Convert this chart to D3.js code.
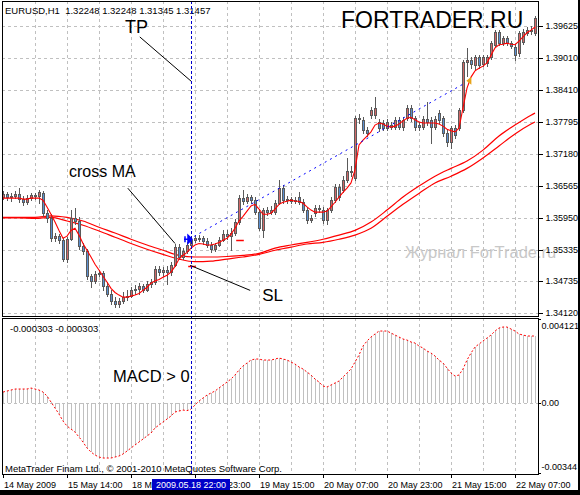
<!DOCTYPE html>
<html>
<head>
<meta charset="utf-8">
<script src="https://cdn.jsdelivr.net/npm/d3@7"></script>
<style>
  body { margin: 0; background: #fff; }
  svg { display: block; font-family: "Liberation Sans", Arial, sans-serif; }
  .grid { stroke: #c0c0c0; stroke-dasharray: 3,3; shape-rendering: crispEdges; }
  .frame { fill: none; stroke: #000; shape-rendering: crispEdges; }
  .axis text { font-size: 9px; fill: #000; }
  .axis line { stroke: #000; shape-rendering: crispEdges; }
</style>
</head>
<body>
<svg id="chart" width="580" height="495"></svg>
<script>
// EURUSD H1, bars 0..133
const open = [
  1.3635,1.3641,1.3635,1.3637,1.3641,1.3631,1.3625,1.3633,1.3639,1.3637,
  1.3642,1.3604,1.3594,1.3556,1.3560,1.3552,1.3516,1.3554,1.3594,1.3589,
  1.3541,1.3531,1.3483,1.3474,1.3487,1.3489,1.3464,1.3450,1.3435,1.3429,
  1.3435,1.3443,1.3445,1.3456,1.3458,1.3464,1.3456,1.3468,1.3472,1.3497,
  1.3491,1.3495,1.3491,1.3504,1.3539,1.3520,1.3531,1.3543,1.3552,1.3556,
  1.3556,1.3550,1.3543,1.3535,1.3543,1.3552,1.3564,1.3560,1.3566,1.3587,
  1.3633,1.3627,1.3635,1.3629,1.3606,1.3571,1.3610,1.3606,1.3606,1.3623,
  1.3652,1.3629,1.3631,1.3627,1.3635,1.3625,1.3610,1.3591,1.3604,1.3614,
  1.3610,1.3591,1.3610,1.3629,1.3654,1.3648,1.3667,1.3685,1.3671,1.3786,
  1.3783,1.3763,1.3792,1.3792,1.3779,1.3777,1.3767,1.3773,1.3769,1.3783,
  1.3769,1.3786,1.3806,1.3786,1.3773,1.3769,1.3785,1.3783,1.3769,1.3796,
  1.3786,1.3758,1.3740,1.3767,1.3767,1.3802,1.3894,1.3898,1.3888,1.3904,
  1.3890,1.3892,1.3904,1.3927,1.3952,1.3930,1.3940,1.3930,1.3923,1.3911,
  1.3932,1.3950,1.3955,1.3950
];
const high = [
  1.3646,1.3644,1.3642,1.3646,1.3652,1.3637,1.3639,1.3642,1.3642,1.3648,
  1.3646,1.3610,1.3602,1.3566,1.3564,1.3556,1.3558,1.3610,1.3614,1.3596,
  1.3546,1.3535,1.3487,1.3493,1.3495,1.3493,1.3472,1.3456,1.3443,1.3441,
  1.3452,1.3456,1.3462,1.3466,1.3470,1.3468,1.3474,1.3477,1.3502,1.3502,
  1.3500,1.3502,1.3510,1.3545,1.3545,1.3537,1.3548,1.3560,1.3562,1.3562,
  1.3560,1.3556,1.3548,1.3546,1.3558,1.3571,1.3571,1.3575,1.3593,1.3639,
  1.3648,1.3641,1.3639,1.3635,1.3612,1.3614,1.3616,1.3618,1.3629,1.3667,
  1.3658,1.3637,1.3635,1.3635,1.3644,1.3631,1.3616,1.3600,1.3619,1.3619,
  1.3616,1.3614,1.3635,1.3660,1.3660,1.3675,1.3710,1.3694,1.3790,1.3794,
  1.3788,1.3769,1.3808,1.3827,1.3785,1.3783,1.3785,1.3779,1.3788,1.3788,
  1.3788,1.3811,1.3811,1.3790,1.3779,1.3790,1.3817,1.3788,1.3790,1.3802,
  1.3790,1.3763,1.3771,1.3773,1.3806,1.3898,1.3921,1.3904,1.3907,1.3907,
  1.3907,1.3907,1.3934,1.3955,1.3955,1.3944,1.3944,1.3934,1.3928,1.3953,
  1.3957,1.3961,1.3963,1.3982
];
const low = [
  1.3631,1.3629,1.3627,1.3633,1.3625,1.3619,1.3621,1.3629,1.3631,1.3623,
  1.3598,1.3587,1.3550,1.3550,1.3546,1.3512,1.3510,1.3552,1.3583,1.3535,
  1.3525,1.3477,1.3462,1.3470,1.3483,1.3456,1.3445,1.3429,1.3424,1.3425,
  1.3431,1.3437,1.3443,1.3450,1.3450,1.3452,1.3454,1.3462,1.3468,1.3485,
  1.3483,1.3468,1.3485,1.3502,1.3516,1.3516,1.3527,1.3539,1.3548,1.3550,
  1.3545,1.3539,1.3529,1.3531,1.3541,1.3550,1.3554,1.3533,1.3562,1.3583,
  1.3621,1.3623,1.3623,1.3602,1.3571,1.3558,1.3600,1.3602,1.3602,1.3621,
  1.3623,1.3623,1.3623,1.3623,1.3621,1.3606,1.3585,1.3587,1.3598,1.3606,
  1.3585,1.3583,1.3606,1.3625,1.3629,1.3644,1.3664,1.3675,1.3667,1.3777,
  1.3758,1.3752,1.3786,1.3786,1.3762,1.3763,1.3763,1.3765,1.3765,1.3765,
  1.3763,1.3783,1.3781,1.3763,1.3763,1.3765,1.3773,1.3738,1.3765,1.3777,
  1.3752,1.3733,1.3729,1.3748,1.3763,1.3798,1.3867,1.3882,1.3879,1.3882,
  1.3886,1.3886,1.3900,1.3923,1.3927,1.3927,1.3927,1.3921,1.3898,1.3905,
  1.3928,1.3946,1.3948,1.3946
];
const close = [
  1.3641,1.3635,1.3637,1.3641,1.3631,1.3625,1.3633,1.3639,1.3637,1.3644,
  1.3604,1.3594,1.3556,1.3560,1.3552,1.3516,1.3554,1.3594,1.3589,1.3541,
  1.3531,1.3483,1.3474,1.3487,1.3489,1.3464,1.3450,1.3435,1.3429,1.3435,
  1.3443,1.3445,1.3456,1.3458,1.3464,1.3456,1.3468,1.3472,1.3497,1.3491,
  1.3495,1.3491,1.3504,1.3539,1.3520,1.3531,1.3543,1.3552,1.3556,1.3557,
  1.3550,1.3543,1.3535,1.3543,1.3552,1.3564,1.3560,1.3566,1.3587,1.3633,
  1.3627,1.3635,1.3629,1.3606,1.3575,1.3610,1.3606,1.3610,1.3623,1.3652,
  1.3629,1.3631,1.3627,1.3629,1.3625,1.3610,1.3591,1.3594,1.3614,1.3612,
  1.3591,1.3610,1.3629,1.3654,1.3635,1.3667,1.3685,1.3683,1.3786,1.3785,
  1.3763,1.3758,1.3802,1.3806,1.3767,1.3767,1.3779,1.3769,1.3783,1.3769,
  1.3783,1.3806,1.3786,1.3769,1.3769,1.3785,1.3779,1.3769,1.3785,1.3783,
  1.3758,1.3740,1.3767,1.3754,1.3802,1.3894,1.3898,1.3890,1.3904,1.3888,
  1.3904,1.3904,1.3930,1.3952,1.3930,1.3940,1.3930,1.3925,1.3907,1.3950,
  1.3952,1.3955,1.3953,1.3978
];
// fast moving average (thin red line)
const maFast = [
  1.3633,1.3633,1.3633,1.3633,1.3633,1.3631,1.3631,1.3633,1.3633,1.3633,
  1.3629,1.3616,1.3602,1.3587,1.3571,1.3556,1.3560,1.3571,1.3575,1.3562,
  1.3546,1.3533,1.3520,1.3506,1.3495,1.3483,1.3472,1.3460,1.3452,1.3447,
  1.3443,1.3443,1.3445,1.3447,1.3450,1.3456,1.3462,1.3470,1.3474,1.3477,
  1.3481,1.3485,1.3491,1.3502,1.3516,1.3523,1.3529,1.3537,1.3543,1.3546,
  1.3545,1.3543,1.3543,1.3545,1.3548,1.3552,1.3556,1.3564,1.3575,1.3589,
  1.3598,1.3608,1.3618,1.3621,1.3612,1.3602,1.3602,1.3604,1.3612,1.3621,
  1.3625,1.3627,1.3629,1.3627,1.3627,1.3623,1.3616,1.3610,1.3606,1.3606,
  1.3606,1.3608,1.3616,1.3625,1.3635,1.3644,1.3652,1.3662,1.3687,1.3735,
  1.3744,1.3752,1.3760,1.3773,1.3777,1.3775,1.3771,1.3769,1.3771,1.3775,
  1.3781,1.3786,1.3788,1.3783,1.3779,1.3777,1.3777,1.3777,1.3777,1.3775,
  1.3771,1.3765,1.3762,1.3760,1.3767,1.3806,1.3844,1.3865,1.3877,1.3882,
  1.3886,1.3892,1.3907,1.3921,1.3927,1.3928,1.3930,1.3928,1.3927,1.3934,
  1.3942,1.3950,1.3955,1.3961
];
// slow moving averages (double red line), read every 4 bars
const slowBars = [0,4,8,12,16,20,24,28,32,36,40,44,48,52,56,60,64,68,72,76,80,84,88,92,96,100,104,108,112,116,120,124,128,132,133];
const maSlowA = [1.3596,1.3596,1.3596,1.3599,1.3596,1.3589,1.3577,1.3566,1.3554,1.3543,1.3533,1.3523,1.3520,1.3520,1.3521,1.3523,1.3527,1.3537,1.3543,1.3548,1.3554,1.3562,1.3571,1.3587,1.3610,1.3635,1.3656,1.3675,1.3690,1.3704,1.3725,1.3752,1.3773,1.3792,1.3796];
const maSlowB = [1.3595,1.3595,1.3594,1.3596,1.3589,1.3581,1.3570,1.3558,1.3546,1.3535,1.3525,1.3516,1.3511,1.3512,1.3516,1.3520,1.3525,1.3533,1.3539,1.3545,1.3548,1.3554,1.3562,1.3575,1.3598,1.3621,1.3642,1.3662,1.3675,1.3690,1.3710,1.3733,1.3756,1.3775,1.3779];
// MACD main (= signal, period 1)
const macd = [
  0.000535,0.000584,0.000633,0.000682,0.000682,0.000682,0.000682,0.000732,0.000682,0.000633,
  0.000535,0.000339,0.000044,-0.000250,-0.000545,-0.000889,-0.001134,-0.001282,-0.001429,-0.001674,
  -0.001920,-0.002214,-0.002411,-0.002558,-0.002656,-0.002705,-0.002705,-0.002705,-0.002656,-0.002607,
  -0.002509,-0.002362,-0.002214,-0.002067,-0.001920,-0.001773,-0.001625,-0.001478,-0.001232,-0.001085,
  -0.000938,-0.000791,-0.000643,-0.000447,-0.000398,-0.000349,-0.000380,-0.000303,-0.000103,0.000093,
  0.000241,0.000388,0.000486,0.000584,0.000732,0.000879,0.001026,0.001173,0.001370,0.001615,
  0.001812,0.001959,0.002106,0.002155,0.002155,0.002106,0.002106,0.002106,0.002155,0.002205,
  0.002155,0.002106,0.002008,0.001910,0.001763,0.001665,0.001517,0.001370,0.001173,0.001026,
  0.000830,0.000781,0.000879,0.000977,0.001075,0.001272,0.001468,0.001665,0.002008,0.002352,
  0.002794,0.003039,0.003236,0.003383,0.003530,0.003530,0.003530,0.003432,0.003334,0.003236,
  0.003137,0.003088,0.002990,0.002941,0.002794,0.002696,0.002548,0.002450,0.002303,0.002106,
  0.001959,0.001714,0.001468,0.001321,0.001370,0.001665,0.002106,0.002450,0.002745,0.002892,
  0.003039,0.003187,0.003334,0.003530,0.003678,0.003727,0.003727,0.003628,0.003530,0.003383,
  0.003334,0.003285,0.003285,0.003285
];

const priceTicks = [1.39625, 1.39010, 1.38410, 1.37795, 1.37180, 1.36565, 1.35950, 1.35335, 1.34735, 1.34120];
const macdTicks = [0.004121, 0, -0.00344];
const macdTickLabels = ['0.004121', '0.00', '-0.00344'];
const timeTickBars = [0, 16, 32, 48, 64, 80, 96, 112, 128];
const timeTickLabels = ['14 May 2009', '15 May 14:00', '18 May 07:00', '18 May 23:00', '19 May 15:00',
  '20 May 07:00', '20 May 23:00', '21 May 15:00', '22 May 07:00'];
const cursorBar = 47;
const cursorLabel = '2009.05.18 22:00';
const headerText = 'EURUSD,H1  1.32248 1.32248 1.31345 1.31457';
const macdHeader = '-0.000303 -0.000303';

// trade drawn on the chart: entry arrow -> take profit
const tradeBars = [46.5, 115.6];
const tradePrices = [1.3554, 1.3854];
const stopBars = [[46.3, 48.2], [58.3, 60.2]];
const stopPrices = [1.3502, 1.3552];

// hand annotations (text at bar/price, pointer from -> to)
const noteText = ['TP', 'cross MA', 'SL'];
const noteBar = [30.5, 16.5, 64.8];
const notePrice = [1.3950, 1.3673, 1.3435];
const noteSize = [18, 16, 17];
const pointerFrom = [[34.2, 1.3942], [31.2, 1.3652], [46.8, 1.3504]];
const pointerTo = [[47.2, 1.3856], [43.0, 1.3546], [61.8, 1.3456]];

const svg = d3.select('#chart');
const PANEL = { left: 2, right: 538, top: 1, bottom: 316 };
const SUB = { top: 318, bottom: 474 };

const x = d3.scaleLinear().domain([0, 133]).range([3, 535]);
const y = d3.scaleLinear().domain([1.34069, 1.40109]).range([PANEL.bottom, PANEL.top]);
const yM = d3.scaleLinear().domain([-0.00344, 0.004121]).range([473, 319]);
const px = v => Math.round(v) + 0.5;

const defs = svg.append('defs');
defs.append('clipPath').attr('id', 'clipMain').append('rect')
  .attr('x', PANEL.left).attr('y', PANEL.top)
  .attr('width', PANEL.right - PANEL.left).attr('height', PANEL.bottom - PANEL.top);
defs.append('clipPath').attr('id', 'clipSub').append('rect')
  .attr('x', PANEL.left).attr('y', SUB.top)
  .attr('width', PANEL.right - PANEL.left).attr('height', SUB.bottom - SUB.top);

svg.append('rect').attr('width', 580).attr('height', 495).attr('fill', '#fff');

// watermark runs past the plot edge, under the price scale
svg.append('text')
  .attr('x', x(100.5)).attr('y', y(1.3518))
  .attr('font-size', 16.5).attr('fill', '#c8c8c8')
  .text('Журнал ForTrade.ru');

const main = svg.append('g').attr('clip-path', 'url(#clipMain)');
const sub = svg.append('g').attr('clip-path', 'url(#clipSub)');

// grid
const gridBars = d3.range(8, 134, 8);
[[main, PANEL.top, PANEL.bottom], [sub, SUB.top, SUB.bottom]].forEach(([g, t, b]) => {
  g.selectAll('.vgrid').data(gridBars).enter().append('line')
    .attr('class', 'grid')
    .attr('x1', d => px(x(d))).attr('x2', d => px(x(d)))
    .attr('y1', t).attr('y2', b);
});
main.selectAll('.hgrid').data(priceTicks).enter().append('line')
  .attr('class', 'grid')
  .attr('x1', PANEL.left).attr('x2', PANEL.right)
  .attr('y1', d => px(y(d))).attr('y2', d => px(y(d)));
sub.append('line').attr('class', 'grid')
  .attr('x1', PANEL.left).attr('x2', PANEL.right)
  .attr('y1', px(yM(0))).attr('y2', px(yM(0)));

main.append('text')
  .attr('x', x(84.5)).attr('y', y(1.3959))
  .attr('font-size', 23).attr('fill', '#000')
  .text('FORTRADER.RU');

// slow MAs
const slowLine = d3.line().x(d => x(d[0])).y(d => y(d[1])).curve(d3.curveMonotoneX);
[maSlowA, maSlowB].forEach(s => {
  main.append('path')
    .attr('d', slowLine(d3.zip(slowBars, s)))
    .attr('fill', 'none').attr('stroke', '#ff0000').attr('stroke-width', 1.2);
});

// candles
const bars = d3.range(open.length);
const candle = main.selectAll('.candle').data(bars).enter().append('g').attr('class', 'candle');
candle.append('line')
  .attr('x1', i => x(i) + 0.5).attr('x2', i => x(i) + 0.5)
  .attr('y1', i => Math.round(y(high[i]))).attr('y2', i => Math.round(y(low[i])) + 1)
  .attr('stroke', '#5a5a5a').attr('shape-rendering', 'crispEdges');
candle.append('rect')
  .attr('x', i => x(i) - 0.5)
  .attr('y', i => px(y(Math.max(open[i], close[i]))))
  .attr('width', 2)
  .attr('height', i => Math.max(1, Math.round(y(Math.min(open[i], close[i]))) - Math.round(y(Math.max(open[i], close[i])))))
  .attr('fill', i => close[i] >= open[i] ? '#d06868' : '#5b8fd0')
  .attr('stroke', '#5a5a5a').attr('shape-rendering', 'crispEdges');

// fast MA
main.append('path')
  .attr('d', d3.line().x((d, i) => x(i)).y(d => y(d))(maFast))
  .attr('fill', 'none').attr('stroke', '#ff0000').attr('stroke-width', 1.1);

// trade line, stop marks, markers
main.append('line')
  .attr('x1', x(tradeBars[0])).attr('y1', y(tradePrices[0]))
  .attr('x2', x(tradeBars[1])).attr('y2', y(tradePrices[1]))
  .attr('stroke', '#0000ff').attr('stroke-dasharray', '2,4');
main.selectAll('.stop').data(stopBars).enter().append('line')
  .attr('x1', d => x(d[0])).attr('x2', d => x(d[1]))
  .attr('y1', (d, i) => px(y(stopPrices[i]))).attr('y2', (d, i) => px(y(stopPrices[i])))
  .attr('stroke', '#ff0000').attr('stroke-width', 1.5);
const ex = x(tradeBars[0]) - 1, ey = y(tradePrices[0]);
main.append('path')
  .attr('d', `M${ex - 4},${ey} L${ex + 4},${ey} M${ex},${ey - 4} L${ex + 4},${ey} L${ex},${ey + 4} Z M${ex - 3},${ey - 3} L${ex - 3},${ey + 3}`)
  .attr('fill', '#0000ff').attr('stroke', '#0000ff').attr('stroke-width', 1.5);
const tx = x(tradeBars[1]) + 1, ty = y(tradePrices[1]) - 2;
main.append('path')
  .attr('d', `M${tx},${ty} L${tx + 5},${ty - 4} L${tx + 5},${ty + 4} Z`)
  .attr('fill', '#e8a317');

// annotations
main.selectAll('.pointer').data(pointerFrom).enter().append('line')
  .attr('x1', d => x(d[0])).attr('y1', d => y(d[1]))
  .attr('x2', (d, i) => x(pointerTo[i][0])).attr('y2', (d, i) => y(pointerTo[i][1]))
  .attr('stroke', '#000').attr('stroke-width', 1);
main.selectAll('.note').data(noteText).enter().append('text')
  .attr('x', (d, i) => x(noteBar[i])).attr('y', (d, i) => y(notePrice[i]))
  .attr('font-size', (d, i) => noteSize[i]).attr('fill', '#000')
  .text(d => d);

main.append('text').attr('x', 5).attr('y', 14)
  .attr('font-size', 9.5).style('white-space', 'pre').text(headerText);

// MACD
sub.selectAll('.hist').data(macd).enter().append('line')
  .attr('x1', (d, i) => x(i) + 0.5).attr('x2', (d, i) => x(i) + 0.5)
  .attr('y1', Math.round(yM(0))).attr('y2', d => Math.round(yM(d)))
  .attr('stroke', '#c0c0c0').attr('shape-rendering', 'crispEdges');
sub.append('path')
  .attr('d', d3.line().x((d, i) => x(i)).y(d => yM(d))(macd))
  .attr('fill', 'none').attr('stroke', '#ff0000').attr('stroke-dasharray', '2,2');
sub.append('text').attr('x', 10).attr('y', 332).attr('font-size', 9.5).text(macdHeader);
sub.append('text').attr('x', x(27.5)).attr('y', yM(0.001026)).attr('font-size', 16.5).text('MACD > 0');
sub.append('text').attr('x', 5).attr('y', 472).attr('font-size', 9.5)
  .text('MetaTrader Finam Ltd., © 2001-2010 MetaQuotes Software Corp.');

// cursor
svg.append('line')
  .attr('x1', px(x(cursorBar))).attr('x2', px(x(cursorBar)))
  .attr('y1', PANEL.top).attr('y2', SUB.bottom)
  .attr('stroke', '#0000cc').attr('stroke-dasharray', '3,2');

// frames
svg.append('rect').attr('class', 'frame')
  .attr('x', PANEL.left + 0.5).attr('y', PANEL.top + 0.5)
  .attr('width', PANEL.right - PANEL.left).attr('height', PANEL.bottom - PANEL.top);
svg.append('rect').attr('class', 'frame')
  .attr('x', PANEL.left + 0.5).attr('y', SUB.top + 0.5)
  .attr('width', PANEL.right - PANEL.left).attr('height', SUB.bottom - SUB.top);

// price axis
const pAxis = svg.append('g').attr('class', 'axis')
  .attr('transform', `translate(${PANEL.right + 0.5},0)`)
  .call(d3.axisRight(y).tickValues(priceTicks).tickSize(4).tickPadding(3).tickFormat(d3.format('.5f')));
pAxis.select('.domain').remove();
pAxis.selectAll('.tick').attr('transform', d => `translate(0,${px(y(d))})`);

const mAxis = svg.append('g').attr('class', 'axis')
  .attr('transform', `translate(${PANEL.right + 0.5},0)`)
  .call(d3.axisRight(yM).tickValues(macdTicks).tickSize(2).tickPadding(1).tickFormat((d, i) => macdTickLabels[i]));
mAxis.select('.domain').remove();
mAxis.selectAll('.tick text').attr('dy', (d, i) => i === 0 ? '1.05em' : i === 2 ? '-0.35em' : '0.32em');

// time axis; labels under the cursor box are hidden as in the terminal
const cx = x(cursorBar);
const boxL = cx - 39, boxR = cx + 39;
const tClip = defs.append('clipPath').attr('id', 'clipTime');
tClip.append('rect').attr('x', 0).attr('y', SUB.bottom).attr('width', boxL).attr('height', 16);
tClip.append('rect').attr('x', boxR).attr('y', SUB.bottom).attr('width', 580 - boxR).attr('height', 16);
const tAxis = svg.append('g').attr('class', 'axis');
tAxis.selectAll('.tt').data(timeTickBars).enter().append('line')
  .attr('x1', d => px(x(d))).attr('x2', d => px(x(d)))
  .attr('y1', SUB.bottom).attr('y2', SUB.bottom + 4);
tAxis.append('g').attr('clip-path', 'url(#clipTime)')
  .selectAll('.tl').data(timeTickBars).enter().append('text')
  .attr('x', d => x(d) + 1).attr('y', 488)
  .text((d, i) => timeTickLabels[i]);
svg.append('rect').attr('x', boxL).attr('y', 479).attr('width', boxR - boxL).attr('height', 11).attr('fill', '#0000c8');
svg.append('text').attr('x', cx).attr('y', 488).attr('text-anchor', 'middle')
  .attr('font-size', 9).attr('fill', '#fff').text(cursorLabel);

// window edge
svg.append('rect').attr('x', 578).attr('y', 0).attr('width', 2).attr('height', 495).attr('fill', '#000');
svg.append('rect').attr('x', 0).attr('y', 490).attr('width', 580).attr('height', 5).attr('fill', '#000');
</script>
</body>
</html>
